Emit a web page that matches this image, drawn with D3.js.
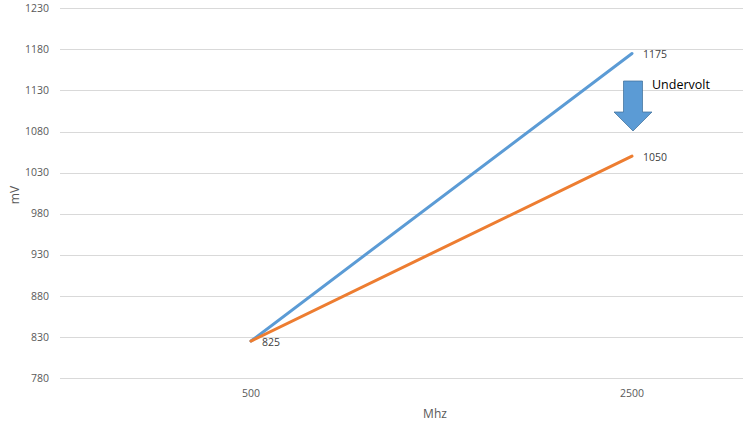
<!DOCTYPE html>
<html><head><meta charset="utf-8">
<script src="https://cdn.jsdelivr.net/npm/d3@7"></script>
<style>body{margin:0;background:#fff}svg{display:block;font-family:"Segoe UI","Open Sans","Liberation Sans",sans-serif}</style>
</head><body><svg id="c" width="743" height="424"></svg>
<script>
const categories = ["500", "2500"];
const seriesBefore = [825, 1175];
const seriesAfter = [825, 1050];
const yTicks = [780, 830, 880, 930, 980, 1030, 1080, 1130, 1180, 1230];
const annotationText = "Undervolt";

const svg = d3.select("#c");
const x = d3.scalePoint().domain(categories).range([251, 632]);
const y = d3.scaleLinear().domain([780, 1230]).range([378, 8.3]);

// gridlines
svg.append("g").selectAll("line").data(yTicks).join("line")
  .attr("x1", 60).attr("x2", 743)
  .attr("y1", d => Math.round(y(d)) + 0.5).attr("y2", d => Math.round(y(d)) + 0.5)
  .attr("stroke", "#d9d9d9").attr("stroke-width", 1);

// y tick labels
svg.append("g").selectAll("text").data(yTicks).join("text")
  .attr("x", 49).attr("y", d => y(d)).attr("dy", "0.35em")
  .attr("text-anchor", "end").attr("fill", "#595959").attr("font-size", 10.5)
  .text(d => d);

// x tick labels
svg.append("g").selectAll("text").data(categories).join("text")
  .attr("x", d => x(d)).attr("y", 393).attr("dy", "0.35em")
  .attr("text-anchor", "middle").attr("fill", "#595959").attr("font-size", 10.5)
  .text(d => d);

// axis titles
svg.append("text").attr("transform", "translate(15,195) rotate(-90)")
  .attr("text-anchor", "middle").attr("dy", "0.35em").attr("fill", "#595959").attr("font-size", 12).text("mV");
svg.append("text").attr("x", 435).attr("y", 414).attr("dy", "0.35em")
  .attr("text-anchor", "middle").attr("fill", "#595959").attr("font-size", 12).text("Mhz");

const line = d3.line().x((d, i) => x(categories[i])).y(d => y(d));
svg.append("path").datum(seriesBefore).attr("d", line)
  .attr("fill", "none").attr("stroke", "#5B9BD5").attr("stroke-width", 3).attr("stroke-linecap", "round");
svg.append("path").datum(seriesAfter).attr("d", line)
  .attr("fill", "none").attr("stroke", "#ED7D31").attr("stroke-width", 3).attr("stroke-linecap", "round");

// data labels
const labels = [
  {v: seriesBefore[1], c: categories[1]},
  {v: seriesAfter[1], c: categories[1]},
  {v: seriesAfter[0], c: categories[0]}
];
svg.append("g").selectAll("text").data(labels).join("text")
  .attr("x", d => x(d.c) + 11).attr("y", d => y(d.v) + 1).attr("dy", "0.35em")
  .attr("fill", "#404040").attr("font-size", 10.5)
  .text(d => d.v);

// arrow annotation
const ax = x(categories[1]) + 1;
const arrow = d3.path();
arrow.moveTo(ax - 9.5, 81);
arrow.lineTo(ax + 9.5, 81);
arrow.lineTo(ax + 9.5, 112);
arrow.lineTo(ax + 19, 112);
arrow.lineTo(ax, 131);
arrow.lineTo(ax - 19, 112);
arrow.lineTo(ax - 9.5, 112);
arrow.closePath();
svg.append("path").attr("d", arrow.toString())
  .attr("fill", "#5B9BD5").attr("stroke", "#41719C").attr("stroke-width", 0.75);
svg.append("text").attr("x", 652).attr("y", 85).attr("dy", "0.35em")
  .attr("fill", "#000").attr("font-size", 12.5).text(annotationText);
</script></body></html>
